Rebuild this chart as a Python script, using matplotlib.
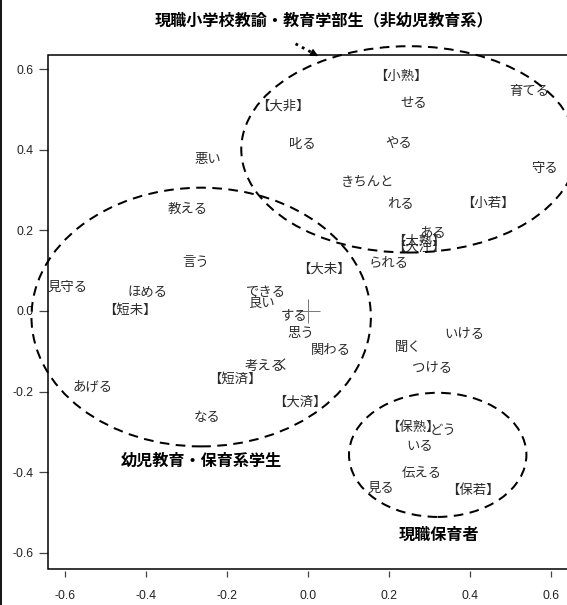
import matplotlib
matplotlib.use("Agg")
import matplotlib.pyplot as plt
from matplotlib.patches import Ellipse, Rectangle
from matplotlib.lines import Line2D

# ── Correspondence-analysis coordinates (dimension 1, dimension 2) ──────
words = [
    "【小熟】", "せる", "育てる", "【大非】", "叱る", "やる", "悪い", "守る",
    "きちんと", "れる", "【小若】", "ある", "【大熟】", "【大注】", "られる",
    "教える", "言う", "【大未】", "見守る", "ほめる", "できる", "【短未】",
    "良い", "する", "思う", "関わる", "考える", "く", "【短済】", "あげる",
    "【大済】", "なる", "いける", "聞く", "つける", "【保熟】", "どう", "いる",
    "伝える", "見る", "【保若】",
]
dim1 = [
    0.230, 0.263, 0.547, -0.062, -0.012, 0.224, -0.247, 0.586,
    0.148, 0.230, 0.444, 0.308, 0.274, 0.274, 0.201,
    -0.297, -0.277, 0.041, -0.592, -0.396, -0.103, -0.440,
    -0.112, -0.033, -0.016, 0.058, -0.107, -0.062, -0.181, -0.530,
    -0.020, -0.249, 0.386, 0.249, 0.308, 0.259, 0.333, 0.277,
    0.281, 0.181, 0.407,
]
dim2 = [
    0.583, 0.517, 0.546, 0.509, 0.414, 0.418, 0.377, 0.355,
    0.319, 0.267, 0.267, 0.196, 0.175, 0.160, 0.121,
    0.254, 0.121, 0.105, 0.060, 0.047, 0.046, 0.004,
    0.020, -0.010, -0.054, -0.097, -0.137, -0.135, -0.167, -0.189,
    -0.225, -0.262, -0.054, -0.089, -0.138, -0.287, -0.295, -0.336,
    -0.402, -0.439, -0.443,
]

# ── Group ellipses: centre x, centre y, width, height ─────────────────────
group_names = ["現職小学校教諭・教育学部生（非幼児教育系）", "幼児教育・保育系学生", "現職保育者"]
ell_x = [0.250, -0.263, 0.321]
ell_y = [0.401, -0.015, -0.357]
ell_w = [0.828, 0.838, 0.438]
ell_h = [0.512, 0.642, 0.308]
name_x = [0.040, -0.262, 0.325]
name_y = [0.720, -0.373, -0.555]

xticks = [-0.6, -0.4, -0.2, 0.0, 0.2, 0.4, 0.6]
yticks = [-0.6, -0.4, -0.2, 0.0, 0.2, 0.4, 0.6]

JP = ["Noto Sans CJK JP", "DejaVu Sans"]
plt.rcParams["font.family"] = ["Liberation Sans", "DejaVu Sans"]

fig = plt.figure(figsize=(5.67, 6.05), dpi=100)
ax = fig.add_axes([48 / 567, 36 / 605, 520 / 567, 514 / 605])
ax.set_xlim(-0.6412, 0.6427)
ax.set_ylim(-0.6402, 0.6352)

# box drawn separately so the x ticks can sit a little below it
for s in ax.spines.values():
    s.set_visible(False)
ax.spines["bottom"].set_position(("outward", 1.5))
ax.add_patch(Rectangle((0, 0), 1, 1, transform=ax.transAxes, fill=False,
                       edgecolor="black", linewidth=1.1, clip_on=False, zorder=5))

ax.set_xticks(xticks)
ax.set_xticklabels([f"{v:.1f}" for v in xticks])
ax.set_yticks(yticks)
ax.set_yticklabels([f"{v:.1f}" for v in yticks])
ax.tick_params(axis="x", length=4.5, width=0.9, color="#444444", pad=9,
               labelsize=8.8, labelcolor="#222222")
ax.tick_params(axis="y", length=6.5, width=0.9, color="#444444", pad=4,
               labelsize=8.8, labelcolor="#222222")

# origin cross
ax.plot([0], [0], marker="+", markersize=17, markeredgewidth=0.7,
        color="#777777", zorder=2)

for w, x, y in zip(words, dim1, dim2):
    ax.text(x, y, w, ha="center", va="center", fontsize=9.6, color="#2b2b2b",
            family=JP, clip_on=True, zorder=3)

for cx, cy, w, h in zip(ell_x, ell_y, ell_w, ell_h):
    ax.add_patch(Ellipse((cx, cy), w, h, fill=False, edgecolor="black",
                         linewidth=1.45, linestyle=(0, (4.8, 3.2)),
                         clip_on=False, zorder=4))

for n, x, y in zip(group_names, name_x, name_y):
    ax.text(x, y, n, ha="center", va="center", fontsize=11.6, fontweight="bold",
            color="black", family=JP, clip_on=False, zorder=6)

# dotted pointer from the title to the upper ellipse
ax.plot([-0.030, 0.020], [0.663, 0.636], linestyle=(0, (1, 1.6)),
        linewidth=2.0, color="black", clip_on=False, zorder=6)
ax.annotate("", xy=(0.032, 0.629), xytext=(0.012, 0.640),
            arrowprops=dict(arrowstyle="-|>", color="black", lw=1.0,
                            mutation_scale=11),
            annotation_clip=False, zorder=6)

# left edge frame line of the figure
fig.add_artist(Line2D([0.0015, 0.0015], [0, 1], transform=fig.transFigure,
                      color="black", linewidth=1.3))

fig.savefig("out.png", dpi=100)
